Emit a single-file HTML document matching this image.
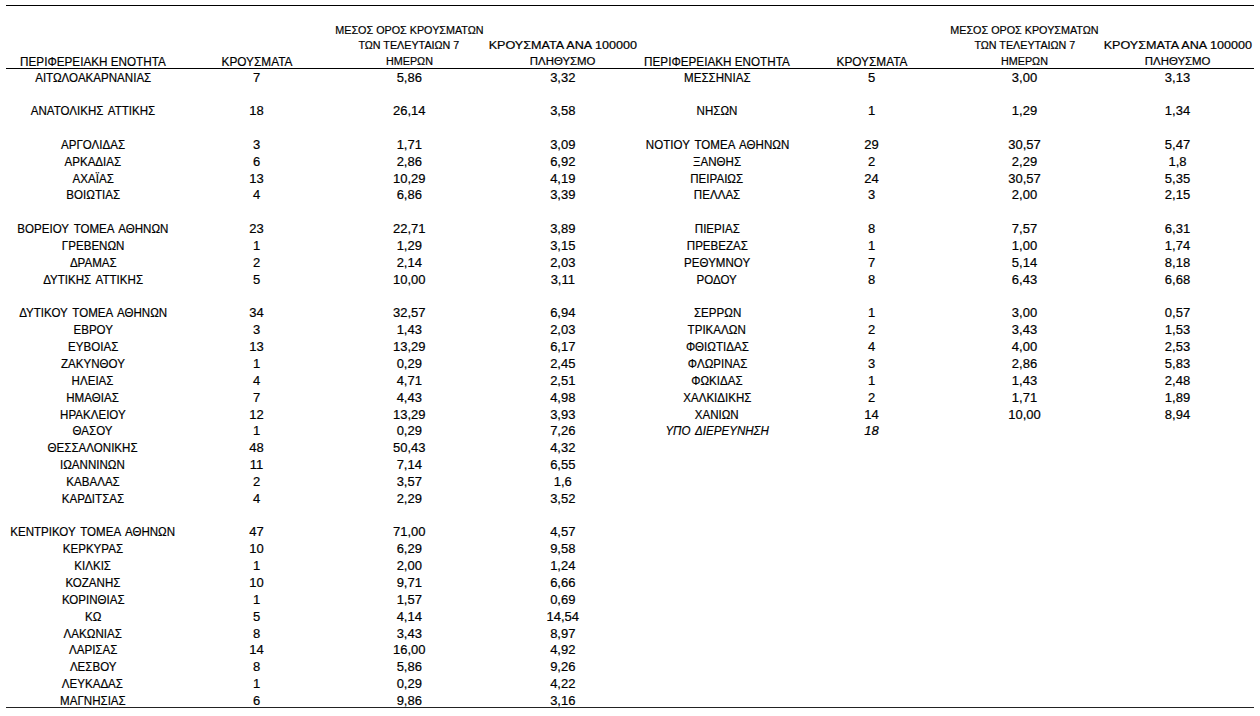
<!DOCTYPE html>
<html><head><meta charset="utf-8"><style>
html,body{margin:0;padding:0;background:#fff;width:1260px;height:716px;overflow:hidden}
.c{position:absolute;width:400px;text-align:center;font-family:"Liberation Sans",sans-serif;font-size:13px;line-height:13px;white-space:nowrap;color:#000;-webkit-text-stroke:0.2px #000}
.c span{display:inline-block;transform-origin:50% 50%}
.i{font-style:italic}
.ln{position:absolute;left:6px;width:1248px;background:#000}
</style></head><body>
<div class="ln" style="top:5px;height:1px;background:#000"></div>
<div class="ln" style="top:68px;height:1px;background:#000"></div>
<div class="ln" style="top:707px;height:1px;background:#222"></div>
<div class="c" style="left:-107.20px;top:54.82px"><span style="transform:scaleX(0.9)">ΠΕΡΙΦΕΡΕΙΑΚΗ ΕΝΟΤΗΤΑ</span></div>
<div class="c" style="left:56.50px;top:54.82px"><span style="transform:scaleX(0.91)">ΚΡΟΥΣΜΑΤΑ</span></div>
<div class="c" style="left:209.30px;top:23.93px;font-size:11.7px;line-height:11.7px"><span style="transform:scaleX(0.922)">ΜΕΣΟΣ ΟΡΟΣ ΚΡΟΥΣΜΑΤΩΝ</span></div>
<div class="c" style="left:209.30px;top:39.13px;font-size:11.7px;line-height:11.7px"><span style="transform:scaleX(0.92)">ΤΩΝ ΤΕΛΕΥΤΑΙΩΝ 7</span></div>
<div class="c" style="left:209.30px;top:55.03px;font-size:11.7px;line-height:11.7px"><span style="transform:scaleX(0.922)">ΗΜΕΡΩΝ</span></div>
<div class="c" style="left:362.80px;top:39.13px;font-size:11.7px;line-height:11.7px"><span style="transform:scaleX(1.078)">ΚΡΟΥΣΜΑΤΑ ΑΝΑ 100000</span></div>
<div class="c" style="left:362.80px;top:55.03px;font-size:11.7px;line-height:11.7px"><span style="transform:scaleX(0.978)">ΠΛΗΘΥΣΜΟ</span></div>
<div class="c" style="left:517.10px;top:54.82px"><span style="transform:scaleX(0.9)">ΠΕΡΙΦΕΡΕΙΑΚΗ ΕΝΟΤΗΤΑ</span></div>
<div class="c" style="left:671.50px;top:54.82px"><span style="transform:scaleX(0.91)">ΚΡΟΥΣΜΑΤΑ</span></div>
<div class="c" style="left:824.50px;top:23.93px;font-size:11.7px;line-height:11.7px"><span style="transform:scaleX(0.922)">ΜΕΣΟΣ ΟΡΟΣ ΚΡΟΥΣΜΑΤΩΝ</span></div>
<div class="c" style="left:824.50px;top:39.13px;font-size:11.7px;line-height:11.7px"><span style="transform:scaleX(0.92)">ΤΩΝ ΤΕΛΕΥΤΑΙΩΝ 7</span></div>
<div class="c" style="left:824.50px;top:55.03px;font-size:11.7px;line-height:11.7px"><span style="transform:scaleX(0.922)">ΗΜΕΡΩΝ</span></div>
<div class="c" style="left:977.50px;top:39.13px;font-size:11.7px;line-height:11.7px"><span style="transform:scaleX(1.078)">ΚΡΟΥΣΜΑΤΑ ΑΝΑ 100000</span></div>
<div class="c" style="left:977.50px;top:55.03px;font-size:11.7px;line-height:11.7px"><span style="transform:scaleX(0.978)">ΠΛΗΘΥΣΜΟ</span></div>
<div class="c" style="left:-107.20px;top:70.52px"><span style="transform:scaleX(0.89)">ΑΙΤΩΛΟΑΚΑΡΝΑΝΙΑΣ</span></div>
<div class="c" style="left:56.50px;top:70.52px"><span style="transform:scaleX(1.0)">7</span></div>
<div class="c" style="left:209.30px;top:70.52px"><span style="transform:scaleX(1.0)">5,86</span></div>
<div class="c" style="left:362.80px;top:70.52px"><span style="transform:scaleX(1.0)">3,32</span></div>
<div class="c" style="left:-107.20px;top:104.22px"><span style="transform:scaleX(0.89);word-spacing:2px">ΑΝΑΤΟΛΙΚΗΣ ΑΤΤΙΚΗΣ</span></div>
<div class="c" style="left:56.50px;top:104.22px"><span style="transform:scaleX(1.0)">18</span></div>
<div class="c" style="left:209.30px;top:104.22px"><span style="transform:scaleX(1.0)">26,14</span></div>
<div class="c" style="left:362.80px;top:104.22px"><span style="transform:scaleX(1.0)">3,58</span></div>
<div class="c" style="left:-107.20px;top:137.92px"><span style="transform:scaleX(0.89)">ΑΡΓΟΛΙΔΑΣ</span></div>
<div class="c" style="left:56.50px;top:137.92px"><span style="transform:scaleX(1.0)">3</span></div>
<div class="c" style="left:209.30px;top:137.92px"><span style="transform:scaleX(1.0)">1,71</span></div>
<div class="c" style="left:362.80px;top:137.92px"><span style="transform:scaleX(1.0)">3,09</span></div>
<div class="c" style="left:-107.20px;top:154.77px"><span style="transform:scaleX(0.89)">ΑΡΚΑΔΙΑΣ</span></div>
<div class="c" style="left:56.50px;top:154.77px"><span style="transform:scaleX(1.0)">6</span></div>
<div class="c" style="left:209.30px;top:154.77px"><span style="transform:scaleX(1.0)">2,86</span></div>
<div class="c" style="left:362.80px;top:154.77px"><span style="transform:scaleX(1.0)">6,92</span></div>
<div class="c" style="left:-107.20px;top:171.62px"><span style="transform:scaleX(0.89)">ΑΧΑΪΑΣ</span></div>
<div class="c" style="left:56.50px;top:171.62px"><span style="transform:scaleX(1.0)">13</span></div>
<div class="c" style="left:209.30px;top:171.62px"><span style="transform:scaleX(1.0)">10,29</span></div>
<div class="c" style="left:362.80px;top:171.62px"><span style="transform:scaleX(1.0)">4,19</span></div>
<div class="c" style="left:-107.20px;top:188.47px"><span style="transform:scaleX(0.89)">ΒΟΙΩΤΙΑΣ</span></div>
<div class="c" style="left:56.50px;top:188.47px"><span style="transform:scaleX(1.0)">4</span></div>
<div class="c" style="left:209.30px;top:188.47px"><span style="transform:scaleX(1.0)">6,86</span></div>
<div class="c" style="left:362.80px;top:188.47px"><span style="transform:scaleX(1.0)">3,39</span></div>
<div class="c" style="left:-107.20px;top:222.17px"><span style="transform:scaleX(0.89);word-spacing:2px">ΒΟΡΕΙΟΥ ΤΟΜΕΑ ΑΘΗΝΩΝ</span></div>
<div class="c" style="left:56.50px;top:222.17px"><span style="transform:scaleX(1.0)">23</span></div>
<div class="c" style="left:209.30px;top:222.17px"><span style="transform:scaleX(1.0)">22,71</span></div>
<div class="c" style="left:362.80px;top:222.17px"><span style="transform:scaleX(1.0)">3,89</span></div>
<div class="c" style="left:-107.20px;top:239.02px"><span style="transform:scaleX(0.89)">ΓΡΕΒΕΝΩΝ</span></div>
<div class="c" style="left:56.50px;top:239.02px"><span style="transform:scaleX(1.0)">1</span></div>
<div class="c" style="left:209.30px;top:239.02px"><span style="transform:scaleX(1.0)">1,29</span></div>
<div class="c" style="left:362.80px;top:239.02px"><span style="transform:scaleX(1.0)">3,15</span></div>
<div class="c" style="left:-107.20px;top:255.87px"><span style="transform:scaleX(0.89)">ΔΡΑΜΑΣ</span></div>
<div class="c" style="left:56.50px;top:255.87px"><span style="transform:scaleX(1.0)">2</span></div>
<div class="c" style="left:209.30px;top:255.87px"><span style="transform:scaleX(1.0)">2,14</span></div>
<div class="c" style="left:362.80px;top:255.87px"><span style="transform:scaleX(1.0)">2,03</span></div>
<div class="c" style="left:-107.20px;top:272.72px"><span style="transform:scaleX(0.89);word-spacing:2px">ΔΥΤΙΚΗΣ ΑΤΤΙΚΗΣ</span></div>
<div class="c" style="left:56.50px;top:272.72px"><span style="transform:scaleX(1.0)">5</span></div>
<div class="c" style="left:209.30px;top:272.72px"><span style="transform:scaleX(1.0)">10,00</span></div>
<div class="c" style="left:362.80px;top:272.72px"><span style="transform:scaleX(1.0)">3,11</span></div>
<div class="c" style="left:-107.20px;top:306.42px"><span style="transform:scaleX(0.89);word-spacing:2px">ΔΥΤΙΚΟΥ ΤΟΜΕΑ ΑΘΗΝΩΝ</span></div>
<div class="c" style="left:56.50px;top:306.42px"><span style="transform:scaleX(1.0)">34</span></div>
<div class="c" style="left:209.30px;top:306.42px"><span style="transform:scaleX(1.0)">32,57</span></div>
<div class="c" style="left:362.80px;top:306.42px"><span style="transform:scaleX(1.0)">6,94</span></div>
<div class="c" style="left:-107.20px;top:323.27px"><span style="transform:scaleX(0.89)">ΕΒΡΟΥ</span></div>
<div class="c" style="left:56.50px;top:323.27px"><span style="transform:scaleX(1.0)">3</span></div>
<div class="c" style="left:209.30px;top:323.27px"><span style="transform:scaleX(1.0)">1,43</span></div>
<div class="c" style="left:362.80px;top:323.27px"><span style="transform:scaleX(1.0)">2,03</span></div>
<div class="c" style="left:-107.20px;top:340.12px"><span style="transform:scaleX(0.89)">ΕΥΒΟΙΑΣ</span></div>
<div class="c" style="left:56.50px;top:340.12px"><span style="transform:scaleX(1.0)">13</span></div>
<div class="c" style="left:209.30px;top:340.12px"><span style="transform:scaleX(1.0)">13,29</span></div>
<div class="c" style="left:362.80px;top:340.12px"><span style="transform:scaleX(1.0)">6,17</span></div>
<div class="c" style="left:-107.20px;top:356.97px"><span style="transform:scaleX(0.89)">ΖΑΚΥΝΘΟΥ</span></div>
<div class="c" style="left:56.50px;top:356.97px"><span style="transform:scaleX(1.0)">1</span></div>
<div class="c" style="left:209.30px;top:356.97px"><span style="transform:scaleX(1.0)">0,29</span></div>
<div class="c" style="left:362.80px;top:356.97px"><span style="transform:scaleX(1.0)">2,45</span></div>
<div class="c" style="left:-107.20px;top:373.82px"><span style="transform:scaleX(0.89)">ΗΛΕΙΑΣ</span></div>
<div class="c" style="left:56.50px;top:373.82px"><span style="transform:scaleX(1.0)">4</span></div>
<div class="c" style="left:209.30px;top:373.82px"><span style="transform:scaleX(1.0)">4,71</span></div>
<div class="c" style="left:362.80px;top:373.82px"><span style="transform:scaleX(1.0)">2,51</span></div>
<div class="c" style="left:-107.20px;top:390.67px"><span style="transform:scaleX(0.89)">ΗΜΑΘΙΑΣ</span></div>
<div class="c" style="left:56.50px;top:390.67px"><span style="transform:scaleX(1.0)">7</span></div>
<div class="c" style="left:209.30px;top:390.67px"><span style="transform:scaleX(1.0)">4,43</span></div>
<div class="c" style="left:362.80px;top:390.67px"><span style="transform:scaleX(1.0)">4,98</span></div>
<div class="c" style="left:-107.20px;top:407.52px"><span style="transform:scaleX(0.89)">ΗΡΑΚΛΕΙΟΥ</span></div>
<div class="c" style="left:56.50px;top:407.52px"><span style="transform:scaleX(1.0)">12</span></div>
<div class="c" style="left:209.30px;top:407.52px"><span style="transform:scaleX(1.0)">13,29</span></div>
<div class="c" style="left:362.80px;top:407.52px"><span style="transform:scaleX(1.0)">3,93</span></div>
<div class="c" style="left:-107.20px;top:424.37px"><span style="transform:scaleX(0.89)">ΘΑΣΟΥ</span></div>
<div class="c" style="left:56.50px;top:424.37px"><span style="transform:scaleX(1.0)">1</span></div>
<div class="c" style="left:209.30px;top:424.37px"><span style="transform:scaleX(1.0)">0,29</span></div>
<div class="c" style="left:362.80px;top:424.37px"><span style="transform:scaleX(1.0)">7,26</span></div>
<div class="c" style="left:-107.20px;top:441.22px"><span style="transform:scaleX(0.89)">ΘΕΣΣΑΛΟΝΙΚΗΣ</span></div>
<div class="c" style="left:56.50px;top:441.22px"><span style="transform:scaleX(1.0)">48</span></div>
<div class="c" style="left:209.30px;top:441.22px"><span style="transform:scaleX(1.0)">50,43</span></div>
<div class="c" style="left:362.80px;top:441.22px"><span style="transform:scaleX(1.0)">4,32</span></div>
<div class="c" style="left:-107.20px;top:458.07px"><span style="transform:scaleX(0.89)">ΙΩΑΝΝΙΝΩΝ</span></div>
<div class="c" style="left:56.50px;top:458.07px"><span style="transform:scaleX(1.0)">11</span></div>
<div class="c" style="left:209.30px;top:458.07px"><span style="transform:scaleX(1.0)">7,14</span></div>
<div class="c" style="left:362.80px;top:458.07px"><span style="transform:scaleX(1.0)">6,55</span></div>
<div class="c" style="left:-107.20px;top:474.92px"><span style="transform:scaleX(0.89)">ΚΑΒΑΛΑΣ</span></div>
<div class="c" style="left:56.50px;top:474.92px"><span style="transform:scaleX(1.0)">2</span></div>
<div class="c" style="left:209.30px;top:474.92px"><span style="transform:scaleX(1.0)">3,57</span></div>
<div class="c" style="left:362.80px;top:474.92px"><span style="transform:scaleX(1.0)">1,6</span></div>
<div class="c" style="left:-107.20px;top:491.77px"><span style="transform:scaleX(0.89)">ΚΑΡΔΙΤΣΑΣ</span></div>
<div class="c" style="left:56.50px;top:491.77px"><span style="transform:scaleX(1.0)">4</span></div>
<div class="c" style="left:209.30px;top:491.77px"><span style="transform:scaleX(1.0)">2,29</span></div>
<div class="c" style="left:362.80px;top:491.77px"><span style="transform:scaleX(1.0)">3,52</span></div>
<div class="c" style="left:-107.20px;top:525.47px"><span style="transform:scaleX(0.89);word-spacing:2px">ΚΕΝΤΡΙΚΟΥ ΤΟΜΕΑ ΑΘΗΝΩΝ</span></div>
<div class="c" style="left:56.50px;top:525.47px"><span style="transform:scaleX(1.0)">47</span></div>
<div class="c" style="left:209.30px;top:525.47px"><span style="transform:scaleX(1.0)">71,00</span></div>
<div class="c" style="left:362.80px;top:525.47px"><span style="transform:scaleX(1.0)">4,57</span></div>
<div class="c" style="left:-107.20px;top:542.32px"><span style="transform:scaleX(0.89)">ΚΕΡΚΥΡΑΣ</span></div>
<div class="c" style="left:56.50px;top:542.32px"><span style="transform:scaleX(1.0)">10</span></div>
<div class="c" style="left:209.30px;top:542.32px"><span style="transform:scaleX(1.0)">6,29</span></div>
<div class="c" style="left:362.80px;top:542.32px"><span style="transform:scaleX(1.0)">9,58</span></div>
<div class="c" style="left:-107.20px;top:559.17px"><span style="transform:scaleX(0.89)">ΚΙΛΚΙΣ</span></div>
<div class="c" style="left:56.50px;top:559.17px"><span style="transform:scaleX(1.0)">1</span></div>
<div class="c" style="left:209.30px;top:559.17px"><span style="transform:scaleX(1.0)">2,00</span></div>
<div class="c" style="left:362.80px;top:559.17px"><span style="transform:scaleX(1.0)">1,24</span></div>
<div class="c" style="left:-107.20px;top:576.02px"><span style="transform:scaleX(0.89)">ΚΟΖΑΝΗΣ</span></div>
<div class="c" style="left:56.50px;top:576.02px"><span style="transform:scaleX(1.0)">10</span></div>
<div class="c" style="left:209.30px;top:576.02px"><span style="transform:scaleX(1.0)">9,71</span></div>
<div class="c" style="left:362.80px;top:576.02px"><span style="transform:scaleX(1.0)">6,66</span></div>
<div class="c" style="left:-107.20px;top:592.87px"><span style="transform:scaleX(0.89)">ΚΟΡΙΝΘΙΑΣ</span></div>
<div class="c" style="left:56.50px;top:592.87px"><span style="transform:scaleX(1.0)">1</span></div>
<div class="c" style="left:209.30px;top:592.87px"><span style="transform:scaleX(1.0)">1,57</span></div>
<div class="c" style="left:362.80px;top:592.87px"><span style="transform:scaleX(1.0)">0,69</span></div>
<div class="c" style="left:-107.20px;top:609.72px"><span style="transform:scaleX(0.89)">ΚΩ</span></div>
<div class="c" style="left:56.50px;top:609.72px"><span style="transform:scaleX(1.0)">5</span></div>
<div class="c" style="left:209.30px;top:609.72px"><span style="transform:scaleX(1.0)">4,14</span></div>
<div class="c" style="left:362.80px;top:609.72px"><span style="transform:scaleX(1.0)">14,54</span></div>
<div class="c" style="left:-107.20px;top:626.57px"><span style="transform:scaleX(0.89)">ΛΑΚΩΝΙΑΣ</span></div>
<div class="c" style="left:56.50px;top:626.57px"><span style="transform:scaleX(1.0)">8</span></div>
<div class="c" style="left:209.30px;top:626.57px"><span style="transform:scaleX(1.0)">3,43</span></div>
<div class="c" style="left:362.80px;top:626.57px"><span style="transform:scaleX(1.0)">8,97</span></div>
<div class="c" style="left:-107.20px;top:643.42px"><span style="transform:scaleX(0.89)">ΛΑΡΙΣΑΣ</span></div>
<div class="c" style="left:56.50px;top:643.42px"><span style="transform:scaleX(1.0)">14</span></div>
<div class="c" style="left:209.30px;top:643.42px"><span style="transform:scaleX(1.0)">16,00</span></div>
<div class="c" style="left:362.80px;top:643.42px"><span style="transform:scaleX(1.0)">4,92</span></div>
<div class="c" style="left:-107.20px;top:660.27px"><span style="transform:scaleX(0.89)">ΛΕΣΒΟΥ</span></div>
<div class="c" style="left:56.50px;top:660.27px"><span style="transform:scaleX(1.0)">8</span></div>
<div class="c" style="left:209.30px;top:660.27px"><span style="transform:scaleX(1.0)">5,86</span></div>
<div class="c" style="left:362.80px;top:660.27px"><span style="transform:scaleX(1.0)">9,26</span></div>
<div class="c" style="left:-107.20px;top:677.12px"><span style="transform:scaleX(0.89)">ΛΕΥΚΑΔΑΣ</span></div>
<div class="c" style="left:56.50px;top:677.12px"><span style="transform:scaleX(1.0)">1</span></div>
<div class="c" style="left:209.30px;top:677.12px"><span style="transform:scaleX(1.0)">0,29</span></div>
<div class="c" style="left:362.80px;top:677.12px"><span style="transform:scaleX(1.0)">4,22</span></div>
<div class="c" style="left:-107.20px;top:693.97px"><span style="transform:scaleX(0.89)">ΜΑΓΝΗΣΙΑΣ</span></div>
<div class="c" style="left:56.50px;top:693.97px"><span style="transform:scaleX(1.0)">6</span></div>
<div class="c" style="left:209.30px;top:693.97px"><span style="transform:scaleX(1.0)">9,86</span></div>
<div class="c" style="left:362.80px;top:693.97px"><span style="transform:scaleX(1.0)">3,16</span></div>
<div class="c" style="left:517.10px;top:70.52px"><span style="transform:scaleX(0.89)">ΜΕΣΣΗΝΙΑΣ</span></div>
<div class="c" style="left:671.50px;top:70.52px"><span style="transform:scaleX(1.0)">5</span></div>
<div class="c" style="left:824.50px;top:70.52px"><span style="transform:scaleX(1.0)">3,00</span></div>
<div class="c" style="left:977.50px;top:70.52px"><span style="transform:scaleX(1.0)">3,13</span></div>
<div class="c" style="left:517.10px;top:104.22px"><span style="transform:scaleX(0.89)">ΝΗΣΩΝ</span></div>
<div class="c" style="left:671.50px;top:104.22px"><span style="transform:scaleX(1.0)">1</span></div>
<div class="c" style="left:824.50px;top:104.22px"><span style="transform:scaleX(1.0)">1,29</span></div>
<div class="c" style="left:977.50px;top:104.22px"><span style="transform:scaleX(1.0)">1,34</span></div>
<div class="c" style="left:517.10px;top:137.92px"><span style="transform:scaleX(0.89);word-spacing:2px">ΝΟΤΙΟΥ ΤΟΜΕΑ ΑΘΗΝΩΝ</span></div>
<div class="c" style="left:671.50px;top:137.92px"><span style="transform:scaleX(1.0)">29</span></div>
<div class="c" style="left:824.50px;top:137.92px"><span style="transform:scaleX(1.0)">30,57</span></div>
<div class="c" style="left:977.50px;top:137.92px"><span style="transform:scaleX(1.0)">5,47</span></div>
<div class="c" style="left:517.10px;top:154.77px"><span style="transform:scaleX(0.89)">ΞΑΝΘΗΣ</span></div>
<div class="c" style="left:671.50px;top:154.77px"><span style="transform:scaleX(1.0)">2</span></div>
<div class="c" style="left:824.50px;top:154.77px"><span style="transform:scaleX(1.0)">2,29</span></div>
<div class="c" style="left:977.50px;top:154.77px"><span style="transform:scaleX(1.0)">1,8</span></div>
<div class="c" style="left:517.10px;top:171.62px"><span style="transform:scaleX(0.89)">ΠΕΙΡΑΙΩΣ</span></div>
<div class="c" style="left:671.50px;top:171.62px"><span style="transform:scaleX(1.0)">24</span></div>
<div class="c" style="left:824.50px;top:171.62px"><span style="transform:scaleX(1.0)">30,57</span></div>
<div class="c" style="left:977.50px;top:171.62px"><span style="transform:scaleX(1.0)">5,35</span></div>
<div class="c" style="left:517.10px;top:188.47px"><span style="transform:scaleX(0.89)">ΠΕΛΛΑΣ</span></div>
<div class="c" style="left:671.50px;top:188.47px"><span style="transform:scaleX(1.0)">3</span></div>
<div class="c" style="left:824.50px;top:188.47px"><span style="transform:scaleX(1.0)">2,00</span></div>
<div class="c" style="left:977.50px;top:188.47px"><span style="transform:scaleX(1.0)">2,15</span></div>
<div class="c" style="left:517.10px;top:222.17px"><span style="transform:scaleX(0.89)">ΠΙΕΡΙΑΣ</span></div>
<div class="c" style="left:671.50px;top:222.17px"><span style="transform:scaleX(1.0)">8</span></div>
<div class="c" style="left:824.50px;top:222.17px"><span style="transform:scaleX(1.0)">7,57</span></div>
<div class="c" style="left:977.50px;top:222.17px"><span style="transform:scaleX(1.0)">6,31</span></div>
<div class="c" style="left:517.10px;top:239.02px"><span style="transform:scaleX(0.89)">ΠΡΕΒΕΖΑΣ</span></div>
<div class="c" style="left:671.50px;top:239.02px"><span style="transform:scaleX(1.0)">1</span></div>
<div class="c" style="left:824.50px;top:239.02px"><span style="transform:scaleX(1.0)">1,00</span></div>
<div class="c" style="left:977.50px;top:239.02px"><span style="transform:scaleX(1.0)">1,74</span></div>
<div class="c" style="left:517.10px;top:255.87px"><span style="transform:scaleX(0.89)">ΡΕΘΥΜΝΟΥ</span></div>
<div class="c" style="left:671.50px;top:255.87px"><span style="transform:scaleX(1.0)">7</span></div>
<div class="c" style="left:824.50px;top:255.87px"><span style="transform:scaleX(1.0)">5,14</span></div>
<div class="c" style="left:977.50px;top:255.87px"><span style="transform:scaleX(1.0)">8,18</span></div>
<div class="c" style="left:517.10px;top:272.72px"><span style="transform:scaleX(0.89)">ΡΟΔΟΥ</span></div>
<div class="c" style="left:671.50px;top:272.72px"><span style="transform:scaleX(1.0)">8</span></div>
<div class="c" style="left:824.50px;top:272.72px"><span style="transform:scaleX(1.0)">6,43</span></div>
<div class="c" style="left:977.50px;top:272.72px"><span style="transform:scaleX(1.0)">6,68</span></div>
<div class="c" style="left:517.10px;top:306.42px"><span style="transform:scaleX(0.89)">ΣΕΡΡΩΝ</span></div>
<div class="c" style="left:671.50px;top:306.42px"><span style="transform:scaleX(1.0)">1</span></div>
<div class="c" style="left:824.50px;top:306.42px"><span style="transform:scaleX(1.0)">3,00</span></div>
<div class="c" style="left:977.50px;top:306.42px"><span style="transform:scaleX(1.0)">0,57</span></div>
<div class="c" style="left:517.10px;top:323.27px"><span style="transform:scaleX(0.89)">ΤΡΙΚΑΛΩΝ</span></div>
<div class="c" style="left:671.50px;top:323.27px"><span style="transform:scaleX(1.0)">2</span></div>
<div class="c" style="left:824.50px;top:323.27px"><span style="transform:scaleX(1.0)">3,43</span></div>
<div class="c" style="left:977.50px;top:323.27px"><span style="transform:scaleX(1.0)">1,53</span></div>
<div class="c" style="left:517.10px;top:340.12px"><span style="transform:scaleX(0.89)">ΦΘΙΩΤΙΔΑΣ</span></div>
<div class="c" style="left:671.50px;top:340.12px"><span style="transform:scaleX(1.0)">4</span></div>
<div class="c" style="left:824.50px;top:340.12px"><span style="transform:scaleX(1.0)">4,00</span></div>
<div class="c" style="left:977.50px;top:340.12px"><span style="transform:scaleX(1.0)">2,53</span></div>
<div class="c" style="left:517.10px;top:356.97px"><span style="transform:scaleX(0.89)">ΦΛΩΡΙΝΑΣ</span></div>
<div class="c" style="left:671.50px;top:356.97px"><span style="transform:scaleX(1.0)">3</span></div>
<div class="c" style="left:824.50px;top:356.97px"><span style="transform:scaleX(1.0)">2,86</span></div>
<div class="c" style="left:977.50px;top:356.97px"><span style="transform:scaleX(1.0)">5,83</span></div>
<div class="c" style="left:517.10px;top:373.82px"><span style="transform:scaleX(0.89)">ΦΩΚΙΔΑΣ</span></div>
<div class="c" style="left:671.50px;top:373.82px"><span style="transform:scaleX(1.0)">1</span></div>
<div class="c" style="left:824.50px;top:373.82px"><span style="transform:scaleX(1.0)">1,43</span></div>
<div class="c" style="left:977.50px;top:373.82px"><span style="transform:scaleX(1.0)">2,48</span></div>
<div class="c" style="left:517.10px;top:390.67px"><span style="transform:scaleX(0.89)">ΧΑΛΚΙΔΙΚΗΣ</span></div>
<div class="c" style="left:671.50px;top:390.67px"><span style="transform:scaleX(1.0)">2</span></div>
<div class="c" style="left:824.50px;top:390.67px"><span style="transform:scaleX(1.0)">1,71</span></div>
<div class="c" style="left:977.50px;top:390.67px"><span style="transform:scaleX(1.0)">1,89</span></div>
<div class="c" style="left:517.10px;top:407.52px"><span style="transform:scaleX(0.89)">ΧΑΝΙΩΝ</span></div>
<div class="c" style="left:671.50px;top:407.52px"><span style="transform:scaleX(1.0)">14</span></div>
<div class="c" style="left:824.50px;top:407.52px"><span style="transform:scaleX(1.0)">10,00</span></div>
<div class="c" style="left:977.50px;top:407.52px"><span style="transform:scaleX(1.0)">8,94</span></div>
<div class="c i" style="left:517.10px;top:424.37px"><span style="transform:scaleX(0.89);word-spacing:2px">ΥΠΟ ΔΙΕΡΕΥΝΗΣΗ</span></div>
<div class="c i" style="left:671.50px;top:424.37px"><span style="transform:scaleX(1.0)">18</span></div>
</body></html>
